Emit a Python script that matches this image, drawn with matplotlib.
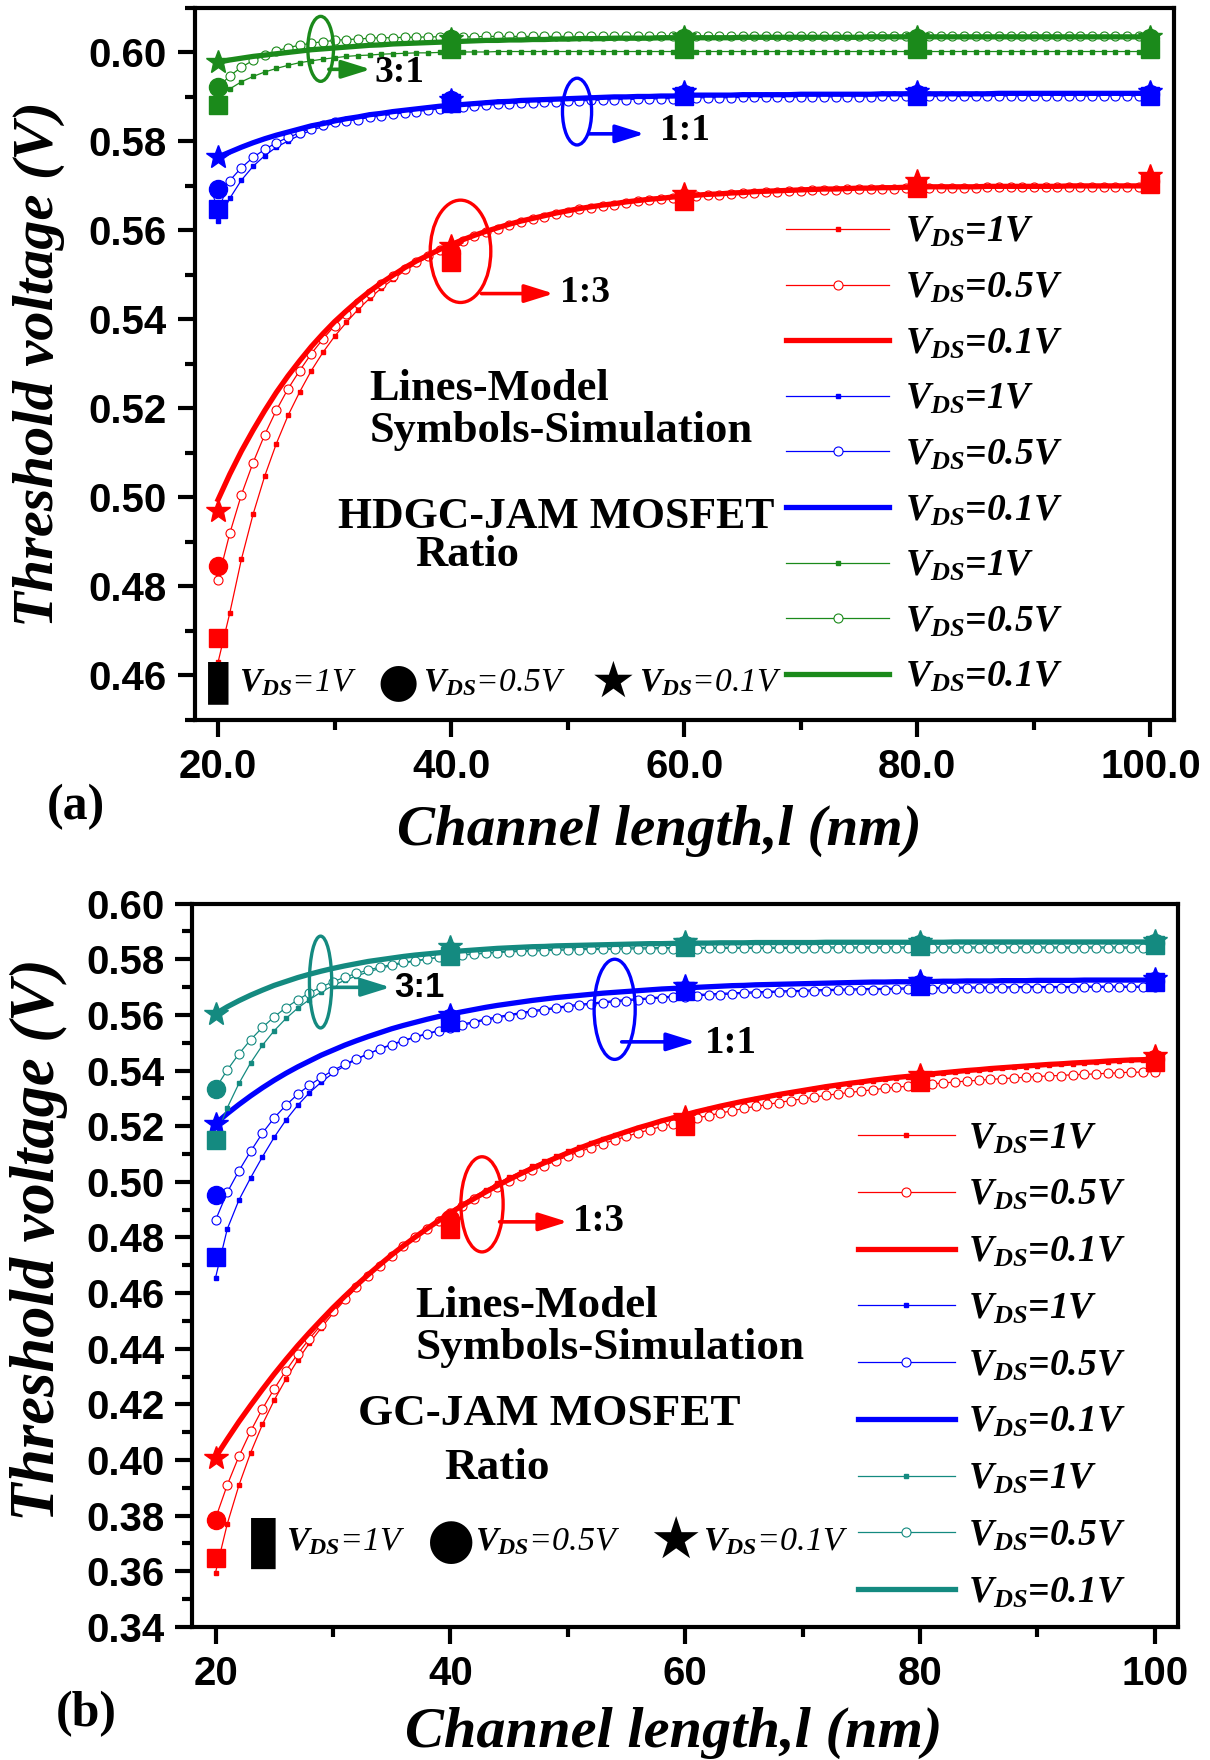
import matplotlib.pyplot as plt
import numpy as np
from matplotlib.patches import Ellipse
from matplotlib.ticker import MultipleLocator, FormatStrFormatter

# channel length grid of the model curves and of the simulation points (nm)
l_model = np.arange(20, 101, 1)
l_sim = [20, 40, 60, 80, 100]

# ---------------- (a) HDGC-JAM MOSFET, model curves ----------------
a_r1 = [0.4630, 0.4740, 0.4861, 0.4962, 0.5048, 0.5121, 0.5184, 0.5237, 0.5285, 0.5326,
        0.5362, 0.5393, 0.5422, 0.5447, 0.5470, 0.5490, 0.5509, 0.5525, 0.5540, 0.5554,
        0.5565, 0.5576, 0.5586, 0.5595, 0.5603, 0.5611, 0.5618, 0.5624, 0.5630, 0.5636,
        0.5641, 0.5646, 0.5650, 0.5654, 0.5657, 0.5661, 0.5664, 0.5667, 0.5669, 0.5672,
        0.5674, 0.5676, 0.5678, 0.5679, 0.5681, 0.5682, 0.5684, 0.5685, 0.5686, 0.5687,
        0.5688, 0.5689, 0.5690, 0.5690, 0.5691, 0.5692, 0.5692, 0.5693, 0.5693, 0.5694,
        0.5694, 0.5695, 0.5695, 0.5695, 0.5695, 0.5695, 0.5696, 0.5696, 0.5696, 0.5696,
        0.5696, 0.5696, 0.5696, 0.5697, 0.5697, 0.5697, 0.5697, 0.5697, 0.5697, 0.5697,
        0.5697]
a_r05 = [0.4815, 0.4919, 0.5006, 0.5078, 0.5141, 0.5196, 0.5244, 0.5285, 0.5323, 0.5356,
         0.5386, 0.5413, 0.5437, 0.5459, 0.5479, 0.5497, 0.5514, 0.5529, 0.5542, 0.5555,
         0.5566, 0.5577, 0.5587, 0.5596, 0.5604, 0.5612, 0.5619, 0.5625, 0.5631, 0.5637,
         0.5642, 0.5647, 0.5651, 0.5655, 0.5658, 0.5662, 0.5665, 0.5668, 0.5670, 0.5673,
         0.5675, 0.5677, 0.5679, 0.5680, 0.5682, 0.5683, 0.5685, 0.5686, 0.5687, 0.5688,
         0.5689, 0.5690, 0.5691, 0.5691, 0.5692, 0.5693, 0.5693, 0.5694, 0.5694, 0.5695,
         0.5695, 0.5696, 0.5696, 0.5696, 0.5696, 0.5696, 0.5697, 0.5697, 0.5697, 0.5697,
         0.5697, 0.5697, 0.5697, 0.5698, 0.5698, 0.5698, 0.5698, 0.5698, 0.5698, 0.5698,
         0.5698]
a_r01 = [0.4995, 0.5052, 0.5104, 0.5151, 0.5195, 0.5236, 0.5273, 0.5307, 0.5339, 0.5368,
         0.5395, 0.5419, 0.5442, 0.5463, 0.5482, 0.5499, 0.5516, 0.5531, 0.5544, 0.5557,
         0.5568, 0.5579, 0.5589, 0.5598, 0.5606, 0.5614, 0.5621, 0.5627, 0.5633, 0.5639,
         0.5644, 0.5649, 0.5653, 0.5657, 0.5660, 0.5664, 0.5667, 0.5670, 0.5672, 0.5675,
         0.5677, 0.5679, 0.5681, 0.5682, 0.5684, 0.5685, 0.5687, 0.5688, 0.5689, 0.5690,
         0.5691, 0.5692, 0.5693, 0.5693, 0.5694, 0.5695, 0.5695, 0.5696, 0.5696, 0.5697,
         0.5697, 0.5698, 0.5698, 0.5698, 0.5698, 0.5698, 0.5699, 0.5699, 0.5699, 0.5699,
         0.5699, 0.5699, 0.5699, 0.5700, 0.5700, 0.5700, 0.5700, 0.5700, 0.5700, 0.5700,
         0.5700]
a_b1 = [0.5620, 0.5672, 0.5713, 0.5744, 0.5768, 0.5787, 0.5801, 0.5814, 0.5825, 0.5833,
        0.5841, 0.5847, 0.5852, 0.5857, 0.5860, 0.5864, 0.5867, 0.5870, 0.5873, 0.5876,
        0.5878, 0.5880, 0.5882, 0.5884, 0.5886, 0.5887, 0.5889, 0.5890, 0.5891, 0.5892,
        0.5893, 0.5894, 0.5895, 0.5896, 0.5897, 0.5897, 0.5898, 0.5898, 0.5899, 0.5899,
        0.5900, 0.5901, 0.5901, 0.5901, 0.5901, 0.5902, 0.5902, 0.5902, 0.5902, 0.5902,
        0.5903, 0.5903, 0.5903, 0.5903, 0.5903, 0.5903, 0.5903, 0.5904, 0.5904, 0.5904,
        0.5904, 0.5904, 0.5904, 0.5904, 0.5904, 0.5904, 0.5904, 0.5905, 0.5905, 0.5905,
        0.5905, 0.5905, 0.5905, 0.5905, 0.5905, 0.5905, 0.5905, 0.5905, 0.5905, 0.5905,
        0.5905]
a_b05 = [0.5675, 0.5712, 0.5741, 0.5764, 0.5782, 0.5797, 0.5809, 0.5819, 0.5829, 0.5836,
         0.5843, 0.5846, 0.5849, 0.5854, 0.5857, 0.5861, 0.5864, 0.5867, 0.5870, 0.5873,
         0.5875, 0.5877, 0.5879, 0.5881, 0.5883, 0.5884, 0.5886, 0.5887, 0.5888, 0.5889,
         0.5890, 0.5891, 0.5892, 0.5893, 0.5894, 0.5894, 0.5895, 0.5895, 0.5896, 0.5896,
         0.5897, 0.5898, 0.5898, 0.5898, 0.5898, 0.5899, 0.5899, 0.5899, 0.5899, 0.5899,
         0.5900, 0.5900, 0.5900, 0.5900, 0.5900, 0.5900, 0.5900, 0.5901, 0.5901, 0.5901,
         0.5901, 0.5901, 0.5901, 0.5901, 0.5901, 0.5901, 0.5901, 0.5902, 0.5902, 0.5902,
         0.5902, 0.5902, 0.5902, 0.5902, 0.5902, 0.5902, 0.5902, 0.5902, 0.5902, 0.5902,
         0.5902]
a_b01 = [0.5765, 0.5776, 0.5787, 0.5797, 0.5806, 0.5814, 0.5821, 0.5828, 0.5835, 0.5840,
         0.5846, 0.5851, 0.5855, 0.5860, 0.5863, 0.5867, 0.5870, 0.5873, 0.5876, 0.5879,
         0.5881, 0.5883, 0.5885, 0.5887, 0.5889, 0.5890, 0.5892, 0.5893, 0.5894, 0.5895,
         0.5896, 0.5897, 0.5898, 0.5899, 0.5900, 0.5900, 0.5901, 0.5901, 0.5902, 0.5902,
         0.5903, 0.5904, 0.5904, 0.5904, 0.5904, 0.5905, 0.5905, 0.5905, 0.5905, 0.5905,
         0.5906, 0.5906, 0.5906, 0.5906, 0.5906, 0.5906, 0.5906, 0.5907, 0.5907, 0.5907,
         0.5907, 0.5907, 0.5907, 0.5907, 0.5907, 0.5907, 0.5907, 0.5908, 0.5908, 0.5908,
         0.5908, 0.5908, 0.5908, 0.5908, 0.5908, 0.5908, 0.5908, 0.5908, 0.5908, 0.5908,
         0.5908]
a_g1 = [0.5900, 0.5918, 0.5934, 0.5946, 0.5956, 0.5964, 0.5971, 0.5977, 0.5981, 0.5985,
        0.5988, 0.5991, 0.5993, 0.5994, 0.5996, 0.5997, 0.5998, 0.5999, 0.5999, 0.6000,
        0.6000, 0.6001, 0.6001, 0.6001, 0.6002, 0.6002, 0.6002, 0.6002, 0.6002, 0.6002,
        0.6002, 0.6002, 0.6002, 0.6002, 0.6002, 0.6002, 0.6002, 0.6002, 0.6002, 0.6002,
        0.6002, 0.6002, 0.6002, 0.6002, 0.6002, 0.6002, 0.6002, 0.6002, 0.6002, 0.6002,
        0.6002, 0.6002, 0.6002, 0.6002, 0.6002, 0.6002, 0.6002, 0.6002, 0.6002, 0.6002,
        0.6002, 0.6002, 0.6002, 0.6002, 0.6002, 0.6002, 0.6002, 0.6002, 0.6002, 0.6002,
        0.6002, 0.6002, 0.6002, 0.6002, 0.6002, 0.6002, 0.6002, 0.6002, 0.6002, 0.6002,
        0.6002]
a_g05 = [0.5922, 0.5947, 0.5967, 0.5982, 0.5994, 0.6003, 0.6011, 0.6016, 0.6021, 0.6024,
         0.6027, 0.6029, 0.6030, 0.6032, 0.6033, 0.6033, 0.6034, 0.6034, 0.6035, 0.6035,
         0.6035, 0.6035, 0.6035, 0.6036, 0.6036, 0.6036, 0.6036, 0.6036, 0.6036, 0.6036,
         0.6036, 0.6036, 0.6036, 0.6036, 0.6036, 0.6036, 0.6036, 0.6036, 0.6036, 0.6036,
         0.6036, 0.6036, 0.6036, 0.6036, 0.6036, 0.6036, 0.6036, 0.6036, 0.6036, 0.6036,
         0.6036, 0.6036, 0.6036, 0.6036, 0.6036, 0.6036, 0.6036, 0.6036, 0.6036, 0.6036,
         0.6036, 0.6036, 0.6036, 0.6036, 0.6036, 0.6036, 0.6036, 0.6036, 0.6036, 0.6036,
         0.6036, 0.6036, 0.6036, 0.6036, 0.6036, 0.6036, 0.6036, 0.6036, 0.6036, 0.6036,
         0.6036]
a_g01 = [0.5978, 0.5983, 0.5987, 0.5991, 0.5994, 0.5997, 0.6000, 0.6003, 0.6006, 0.6008,
         0.6010, 0.6012, 0.6014, 0.6016, 0.6017, 0.6019, 0.6020, 0.6021, 0.6022, 0.6023,
         0.6024, 0.6025, 0.6026, 0.6027, 0.6027, 0.6028, 0.6028, 0.6029, 0.6029, 0.6030,
         0.6030, 0.6031, 0.6031, 0.6031, 0.6032, 0.6032, 0.6032, 0.6032, 0.6033, 0.6033,
         0.6033, 0.6033, 0.6033, 0.6033, 0.6033, 0.6034, 0.6034, 0.6034, 0.6034, 0.6034,
         0.6034, 0.6034, 0.6034, 0.6034, 0.6034, 0.6034, 0.6035, 0.6035, 0.6035, 0.6035,
         0.6035, 0.6035, 0.6035, 0.6035, 0.6035, 0.6035, 0.6035, 0.6035, 0.6035, 0.6035,
         0.6035, 0.6035, 0.6035, 0.6035, 0.6035, 0.6035, 0.6035, 0.6035, 0.6035, 0.6035,
         0.6035]

# (a) simulation points at 20/40/60/80/100 nm
a_sim_r1 = [0.4685, 0.5530, 0.5665, 0.5695, 0.5705]
a_sim_r05 = [0.4845, 0.5552, 0.5672, 0.5700, 0.5712]
a_sim_r01 = [0.4970, 0.5565, 0.5682, 0.5712, 0.5722]
a_sim_b1 = [0.5647, 0.5887, 0.5903, 0.5903, 0.5903]
a_sim_b05 = [0.5694, 0.5892, 0.5906, 0.5906, 0.5906]
a_sim_b01 = [0.5765, 0.5893, 0.5910, 0.5912, 0.5912]
a_sim_g1 = [0.5881, 0.6008, 0.6008, 0.6008, 0.6008]
a_sim_g05 = [0.5922, 0.6031, 0.6033, 0.6033, 0.6033]
a_sim_g01 = [0.5978, 0.6031, 0.6034, 0.6034, 0.6034]

# ---------------- (b) GC-JAM MOSFET, model curves ----------------
b_r1 = [0.3595, 0.3770, 0.3910, 0.4027, 0.4128, 0.4215, 0.4291, 0.4359, 0.4420, 0.4475,
        0.4527, 0.4574, 0.4618, 0.4659, 0.4698, 0.4735, 0.4771, 0.4804, 0.4836, 0.4866,
        0.4895, 0.4922, 0.4947, 0.4971, 0.4994, 0.5016, 0.5036, 0.5056, 0.5074, 0.5092,
        0.5109, 0.5125, 0.5140, 0.5154, 0.5167, 0.5180, 0.5192, 0.5204, 0.5217, 0.5228,
        0.5239, 0.5250, 0.5260, 0.5270, 0.5279, 0.5288, 0.5296, 0.5304, 0.5312, 0.5319,
        0.5326, 0.5333, 0.5340, 0.5346, 0.5352, 0.5357, 0.5363, 0.5368, 0.5373, 0.5377,
        0.5382, 0.5386, 0.5390, 0.5394, 0.5398, 0.5401, 0.5405, 0.5408, 0.5411, 0.5414,
        0.5417, 0.5420, 0.5422, 0.5425, 0.5427, 0.5429, 0.5432, 0.5434, 0.5436, 0.5437,
        0.5439]
b_r05 = [0.3790, 0.3910, 0.4014, 0.4104, 0.4184, 0.4256, 0.4321, 0.4381, 0.4436, 0.4486,
         0.4534, 0.4578, 0.4621, 0.4661, 0.4698, 0.4734, 0.4768, 0.4800, 0.4830, 0.4859,
         0.4888, 0.4913, 0.4937, 0.4959, 0.4981, 0.5002, 0.5022, 0.5041, 0.5058, 0.5075,
         0.5092, 0.5108, 0.5123, 0.5137, 0.5150, 0.5163, 0.5176, 0.5187, 0.5199, 0.5209,
         0.5219, 0.5229, 0.5238, 0.5247, 0.5255, 0.5264, 0.5271, 0.5278, 0.5285, 0.5292,
         0.5298, 0.5304, 0.5311, 0.5316, 0.5321, 0.5326, 0.5331, 0.5336, 0.5340, 0.5344,
         0.5348, 0.5352, 0.5355, 0.5359, 0.5362, 0.5365, 0.5368, 0.5371, 0.5373, 0.5376,
         0.5378, 0.5381, 0.5382, 0.5385, 0.5386, 0.5388, 0.5390, 0.5392, 0.5394, 0.5394,
         0.5396]
b_r01 = [0.4010, 0.4075, 0.4138, 0.4197, 0.4254, 0.4309, 0.4361, 0.4411, 0.4458, 0.4503,
         0.4547, 0.4588, 0.4628, 0.4666, 0.4702, 0.4737, 0.4770, 0.4801, 0.4831, 0.4860,
         0.4888, 0.4914, 0.4939, 0.4963, 0.4986, 0.5008, 0.5029, 0.5049, 0.5068, 0.5086,
         0.5104, 0.5121, 0.5137, 0.5152, 0.5166, 0.5180, 0.5194, 0.5206, 0.5219, 0.5230,
         0.5241, 0.5252, 0.5262, 0.5272, 0.5281, 0.5290, 0.5298, 0.5306, 0.5314, 0.5321,
         0.5328, 0.5335, 0.5342, 0.5348, 0.5354, 0.5359, 0.5365, 0.5370, 0.5375, 0.5379,
         0.5384, 0.5388, 0.5392, 0.5396, 0.5400, 0.5403, 0.5407, 0.5410, 0.5413, 0.5416,
         0.5419, 0.5422, 0.5424, 0.5427, 0.5429, 0.5431, 0.5434, 0.5436, 0.5438, 0.5439,
         0.5441]
b_b1 = [0.4655, 0.4830, 0.4935, 0.5015, 0.5090, 0.5160, 0.5222, 0.5275, 0.5320, 0.5358,
        0.5390, 0.5417, 0.5440, 0.5460, 0.5478, 0.5494, 0.5508, 0.5521, 0.5533, 0.5544,
        0.5555, 0.5566, 0.5576, 0.5585, 0.5593, 0.5601, 0.5608, 0.5615, 0.5621, 0.5627,
        0.5633, 0.5638, 0.5642, 0.5647, 0.5651, 0.5655, 0.5658, 0.5661, 0.5665, 0.5667,
        0.5670, 0.5673, 0.5675, 0.5677, 0.5679, 0.5681, 0.5683, 0.5684, 0.5686, 0.5687,
        0.5688, 0.5690, 0.5691, 0.5692, 0.5693, 0.5694, 0.5695, 0.5695, 0.5696, 0.5697,
        0.5697, 0.5698, 0.5699, 0.5699, 0.5700, 0.5700, 0.5700, 0.5701, 0.5701, 0.5702,
        0.5702, 0.5702, 0.5702, 0.5702, 0.5703, 0.5703, 0.5703, 0.5703, 0.5703, 0.5703,
        0.5703]
b_b05 = [0.4862, 0.4962, 0.5040, 0.5110, 0.5175, 0.5230, 0.5275, 0.5315, 0.5347, 0.5375,
         0.5400, 0.5422, 0.5442, 0.5460, 0.5477, 0.5492, 0.5506, 0.5519, 0.5531, 0.5542,
         0.5552, 0.5562, 0.5572, 0.5581, 0.5589, 0.5597, 0.5604, 0.5611, 0.5617, 0.5623,
         0.5629, 0.5634, 0.5638, 0.5643, 0.5647, 0.5651, 0.5654, 0.5657, 0.5661, 0.5663,
         0.5666, 0.5669, 0.5671, 0.5673, 0.5675, 0.5677, 0.5679, 0.5680, 0.5682, 0.5683,
         0.5684, 0.5686, 0.5687, 0.5688, 0.5689, 0.5690, 0.5691, 0.5691, 0.5692, 0.5693,
         0.5693, 0.5694, 0.5695, 0.5695, 0.5696, 0.5696, 0.5696, 0.5697, 0.5697, 0.5698,
         0.5698, 0.5698, 0.5698, 0.5698, 0.5699, 0.5699, 0.5699, 0.5699, 0.5699, 0.5699,
         0.5699]
b_b01 = [0.5209, 0.5245, 0.5278, 0.5309, 0.5338, 0.5365, 0.5390, 0.5413, 0.5434, 0.5455,
         0.5473, 0.5491, 0.5507, 0.5522, 0.5536, 0.5550, 0.5562, 0.5573, 0.5584, 0.5594,
         0.5603, 0.5611, 0.5619, 0.5627, 0.5634, 0.5640, 0.5646, 0.5652, 0.5657, 0.5662,
         0.5666, 0.5670, 0.5674, 0.5678, 0.5681, 0.5684, 0.5687, 0.5690, 0.5693, 0.5695,
         0.5697, 0.5699, 0.5701, 0.5703, 0.5705, 0.5706, 0.5708, 0.5709, 0.5710, 0.5711,
         0.5712, 0.5713, 0.5714, 0.5715, 0.5716, 0.5717, 0.5718, 0.5718, 0.5719, 0.5719,
         0.5720, 0.5720, 0.5721, 0.5721, 0.5722, 0.5722, 0.5722, 0.5723, 0.5723, 0.5723,
         0.5724, 0.5724, 0.5724, 0.5724, 0.5725, 0.5725, 0.5725, 0.5725, 0.5725, 0.5725,
         0.5725]
b_t1 = [0.5160, 0.5266, 0.5354, 0.5428, 0.5491, 0.5543, 0.5587, 0.5624, 0.5655, 0.5682,
        0.5705, 0.5724, 0.5740, 0.5754, 0.5767, 0.5777, 0.5786, 0.5793, 0.5800, 0.5806,
        0.5811, 0.5816, 0.5820, 0.5823, 0.5826, 0.5829, 0.5831, 0.5833, 0.5834, 0.5836,
        0.5837, 0.5838, 0.5839, 0.5839, 0.5840, 0.5841, 0.5841, 0.5841, 0.5842, 0.5842,
        0.5842, 0.5842, 0.5843, 0.5843, 0.5843, 0.5843, 0.5843, 0.5843, 0.5843, 0.5843,
        0.5843, 0.5844, 0.5844, 0.5844, 0.5844, 0.5844, 0.5844, 0.5844, 0.5844, 0.5844,
        0.5844, 0.5844, 0.5844, 0.5844, 0.5844, 0.5844, 0.5844, 0.5844, 0.5844, 0.5844,
        0.5844, 0.5844, 0.5844, 0.5844, 0.5844, 0.5844, 0.5844, 0.5844, 0.5844, 0.5844,
        0.5844]
b_t05 = [0.5335, 0.5402, 0.5460, 0.5511, 0.5555, 0.5593, 0.5626, 0.5654, 0.5679, 0.5700,
         0.5719, 0.5735, 0.5749, 0.5761, 0.5772, 0.5781, 0.5789, 0.5795, 0.5801, 0.5807,
         0.5811, 0.5815, 0.5818, 0.5821, 0.5824, 0.5826, 0.5828, 0.5829, 0.5831, 0.5832,
         0.5833, 0.5834, 0.5835, 0.5835, 0.5836, 0.5837, 0.5837, 0.5837, 0.5838, 0.5838,
         0.5838, 0.5838, 0.5839, 0.5839, 0.5839, 0.5839, 0.5839, 0.5839, 0.5839, 0.5839,
         0.5839, 0.5840, 0.5840, 0.5840, 0.5840, 0.5840, 0.5840, 0.5840, 0.5840, 0.5840,
         0.5840, 0.5840, 0.5840, 0.5840, 0.5840, 0.5840, 0.5840, 0.5840, 0.5840, 0.5840,
         0.5840, 0.5840, 0.5840, 0.5840, 0.5840, 0.5840, 0.5840, 0.5840, 0.5840, 0.5840,
         0.5840]
b_t01 = [0.5604, 0.5629, 0.5651, 0.5671, 0.5689, 0.5706, 0.5720, 0.5734, 0.5746, 0.5757,
         0.5767, 0.5776, 0.5784, 0.5792, 0.5798, 0.5804, 0.5810, 0.5815, 0.5819, 0.5823,
         0.5827, 0.5830, 0.5833, 0.5836, 0.5839, 0.5841, 0.5843, 0.5845, 0.5846, 0.5848,
         0.5849, 0.5850, 0.5851, 0.5852, 0.5853, 0.5854, 0.5855, 0.5856, 0.5856, 0.5857,
         0.5857, 0.5858, 0.5858, 0.5859, 0.5859, 0.5859, 0.5860, 0.5860, 0.5860, 0.5860,
         0.5860, 0.5860, 0.5861, 0.5861, 0.5861, 0.5861, 0.5861, 0.5861, 0.5861, 0.5861,
         0.5861, 0.5861, 0.5861, 0.5862, 0.5862, 0.5862, 0.5862, 0.5862, 0.5862, 0.5862,
         0.5862, 0.5862, 0.5862, 0.5862, 0.5862, 0.5862, 0.5862, 0.5862, 0.5862, 0.5862,
         0.5862]

# (b) simulation points
b_sim_r1 = [0.3647, 0.4830, 0.5200, 0.5360, 0.5430]
b_sim_r05 = [0.3785, 0.4868, 0.5215, 0.5370, 0.5440]
b_sim_r01 = [0.4006, 0.4860, 0.5232, 0.5385, 0.5452]
b_sim_b1 = [0.4730, 0.5574, 0.5685, 0.5705, 0.5718]
b_sim_b05 = [0.4952, 0.5590, 0.5690, 0.5710, 0.5722]
b_sim_b01 = [0.5209, 0.5600, 0.5702, 0.5720, 0.5728]
b_sim_t1 = [0.5149, 0.5813, 0.5845, 0.5848, 0.5850]
b_sim_t05 = [0.5335, 0.5830, 0.5852, 0.5855, 0.5857]
b_sim_t01 = [0.5604, 0.5845, 0.5862, 0.5863, 0.5864]

vds_labels = [r'$\mathbfit{V}_{\mathbfit{DS}}$=1V', r'$\mathbfit{V}_{\mathbfit{DS}}$=0.5V',
              r'$\mathbfit{V}_{\mathbfit{DS}}$=0.1V'] * 3

red = '#ff0000'
blue = '#0000ff'
green = '#1b8a1b'
teal = '#148a80'

plt.rcParams['font.family'] = 'Liberation Sans'
plt.rcParams['font.weight'] = 'bold'
plt.rcParams['mathtext.fontset'] = 'custom'
plt.rcParams['mathtext.rm'] = 'Liberation Serif'
plt.rcParams['mathtext.it'] = 'Liberation Serif:italic'
plt.rcParams['mathtext.bfit'] = 'Liberation Serif:italic:bold'
plt.rcParams['axes.linewidth'] = 3

serif_b = dict(family='Liberation Serif', weight='bold')
serif_bi = dict(family='Liberation Serif', weight='bold', style='italic')


def draw_models(ax, groups, colors):
    handles = []
    for (v1, v05, v01), c in zip(groups, colors):
        h1, = ax.plot(l_model, v1, color=c, lw=0.9, marker='s', ms=3, mfc=c, mec=c)
        h2, = ax.plot(l_model, v05, color=c, lw=0.9, marker='o', ms=6.5,
                      mfc='white', mec=c, mew=0.8)
        h3, = ax.plot(l_model, v01, color=c, lw=3.8)
        handles += [h1, h2, h3]
    return handles


def draw_sims(ax, groups, colors):
    for (s1, s05, s01), c in zip(groups, colors):
        ax.plot(l_sim, s1, ls='none', marker='s', ms=13, color=c, zorder=5)
        ax.plot(l_sim, s05, ls='none', marker='o', ms=13, color=c, zorder=5)
        ax.plot(l_sim, s01, ls='none', marker='*', ms=18, color=c, zorder=5)


def setup_axes(ax, ylim, xfmt):
    ax.set_xlim(18, 102)
    ax.set_ylim(*ylim)
    ax.xaxis.set_major_locator(MultipleLocator(20))
    ax.xaxis.set_minor_locator(MultipleLocator(10))
    ax.yaxis.set_major_locator(MultipleLocator(0.02))
    ax.yaxis.set_minor_locator(MultipleLocator(0.01))
    ax.xaxis.set_major_formatter(FormatStrFormatter(xfmt))
    ax.yaxis.set_major_formatter(FormatStrFormatter('%.2f'))
    ax.tick_params(which='major', direction='out', length=12, width=3, pad=8, labelsize=29)
    ax.tick_params(which='minor', direction='out', length=7, width=3)


def ratio_mark(ax, c, center, w, h, start, end, text, text_xy, size, font):
    ax.add_patch(Ellipse(center, w, h, fill=False, ec=c, lw=2.4, zorder=6))
    ax.annotate('', xy=end, xytext=start,
                arrowprops=dict(arrowstyle='-|>,head_length=0.8,head_width=0.25',
                                color=c, lw=2.6, mutation_scale=22, shrinkA=0, shrinkB=0),
                zorder=6)
    ax.text(text_xy[0], text_xy[1], text, ha='left', va='center', fontsize=size, **font)


def vds_row(ax, y, sym_x, txt_x, size, sym_sizes):
    syms = ['\u25ae', '\u25cf', '\u2605']
    txts = [r'$V_{DS}$=1V', r'$V_{DS}$=0.5V', r'$V_{DS}$=0.1V']
    for s, sx, ss, t, tx in zip(syms, sym_x, sym_sizes, txts, txt_x):
        ax.text(sx, y, s, ha='center', va='center', fontsize=ss, family='DejaVu Sans',
                weight='normal')
        ax.text(tx, y, t, ha='left', va='center', fontsize=size, family='Liberation Serif',
                style='italic', weight='normal')


fig = plt.figure(figsize=(12.1, 17.6), dpi=100)
ax1 = fig.add_axes([0.161, 0.591, 0.809, 0.4045])
ax2 = fig.add_axes([0.1587, 0.0756, 0.815, 0.411])

# ---- panel (a)
cols_a = [red, blue, green]
h_a = draw_models(ax1, [(a_r1, a_r05, a_r01), (a_b1, a_b05, a_b01), (a_g1, a_g05, a_g01)], cols_a)
draw_sims(ax1, [(a_sim_r1, a_sim_r05, a_sim_r01), (a_sim_b1, a_sim_b05, a_sim_b01),
                (a_sim_g1, a_sim_g05, a_sim_g01)], cols_a)
setup_axes(ax1, (0.45, 0.61), '%.1f')

ratio_mark(ax1, green, (28.8, 0.6008), 2.2, 0.0146, (29.5, 0.5962), (33.1, 0.5962),
           '3:1', (33.4, 0.5955), 27, serif_b)
ratio_mark(ax1, blue, (50.8, 0.5867), 2.5, 0.0150, (51.8, 0.5817), (56.6, 0.5817),
           '1:1', (57.9, 0.5824), 27, serif_b)
ratio_mark(ax1, red, (40.8, 0.5553), 5.2, 0.0230, (42.6, 0.5458), (48.8, 0.5458),
           '1:3', (49.3, 0.5461), 27, serif_b)

ax1.text(33.0, 0.5243, 'Lines-Model', fontsize=32, va='center', **serif_b)
ax1.text(33.0, 0.5149, 'Symbols-Simulation', fontsize=32, va='center', **serif_b)
ax1.text(30.3, 0.4955, 'HDGC-JAM MOSFET', fontsize=31.5, va='center', **serif_b)
ax1.text(36.9, 0.4870, 'Ratio', fontsize=32, va='center', **serif_b)
vds_row(ax1, 0.4584, [20.0, 35.4, 53.9], [21.8, 37.6, 56.1], 24, [40, 34, 36])

ax1.legend(h_a, vds_labels, loc='upper left', bbox_to_anchor=(0.604, 0.709),
           frameon=False, numpoints=1, handlelength=2.75, handletextpad=0.42,
           labelspacing=0.55, borderpad=0, borderaxespad=0,
           prop=dict(family='Liberation Serif', weight='bold', style='italic', size=27))

ax1.set_xlabel('Channel length,l (nm)', fontsize=41, **serif_bi)
ax1.xaxis.set_label_coords(0.475, -0.119)
ax1.set_ylabel('Threshold voltage (V)', fontsize=42, va='center', **serif_bi)
ax1.yaxis.set_label_coords(-0.159, 0.5)

# ---- panel (b)
cols_b = [red, blue, teal]
h_b = draw_models(ax2, [(b_r1, b_r05, b_r01), (b_b1, b_b05, b_b01), (b_t1, b_t05, b_t01)], cols_b)
draw_sims(ax2, [(b_sim_r1, b_sim_r05, b_sim_r01), (b_sim_b1, b_sim_b05, b_sim_b01),
                (b_sim_t1, b_sim_t05, b_sim_t01)], cols_b)
setup_axes(ax2, (0.34, 0.60), '%d')

ratio_mark(ax2, teal, (28.95, 0.5718), 1.9, 0.0330, (29.9, 0.5699), (34.9, 0.5699),
           '3:1', (35.2, 0.5699), 25, dict(family='Liberation Sans', weight='bold'))
ratio_mark(ax2, blue, (54.0, 0.5620), 3.5, 0.0360, (54.6, 0.5503), (60.9, 0.5503),
           '1:1', (61.7, 0.5497), 28, serif_b)
ratio_mark(ax2, red, (42.7, 0.4919), 3.6, 0.0342, (44.2, 0.4856), (50.0, 0.4856),
           '1:3', (50.4, 0.4856), 28, serif_b)

ax2.text(37.0, 0.4554, 'Lines-Model', fontsize=32.5, va='center', **serif_b)
ax2.text(37.0, 0.4402, 'Symbols-Simulation', fontsize=32.5, va='center', **serif_b)
ax2.text(32.1, 0.4165, 'GC-JAM MOSFET', fontsize=32.5, va='center', **serif_b)
ax2.text(39.5, 0.3970, 'Ratio', fontsize=32.5, va='center', **serif_b)
vds_row(ax2, 0.3705, [24.1, 40.1, 59.2], [26.0, 42.1, 61.5], 24.5, [48, 40, 42])

ax2.legend(h_b, vds_labels, loc='upper left', bbox_to_anchor=(0.675, 0.699),
           frameon=False, numpoints=1, handlelength=2.6, handletextpad=0.33,
           labelspacing=0.58, borderpad=0, borderaxespad=0,
           prop=dict(family='Liberation Serif', weight='bold', style='italic', size=27))

ax2.set_xlabel('Channel length,l (nm)', fontsize=42, **serif_bi)
ax2.xaxis.set_label_coords(0.488, -0.111)
ax2.set_ylabel('Threshold voltage (V)', fontsize=45, va='center', **serif_bi)
ax2.yaxis.set_label_coords(-0.155, 0.535)

fig.text(76 / 1210, 1 - 807 / 1760, '(a)', ha='center', va='center', fontsize=36, **serif_b)
fig.text(86 / 1210, 1 - 1714 / 1760, '(b)', ha='center', va='center', fontsize=36, **serif_b)

fig.savefig('out.png', dpi=100)
